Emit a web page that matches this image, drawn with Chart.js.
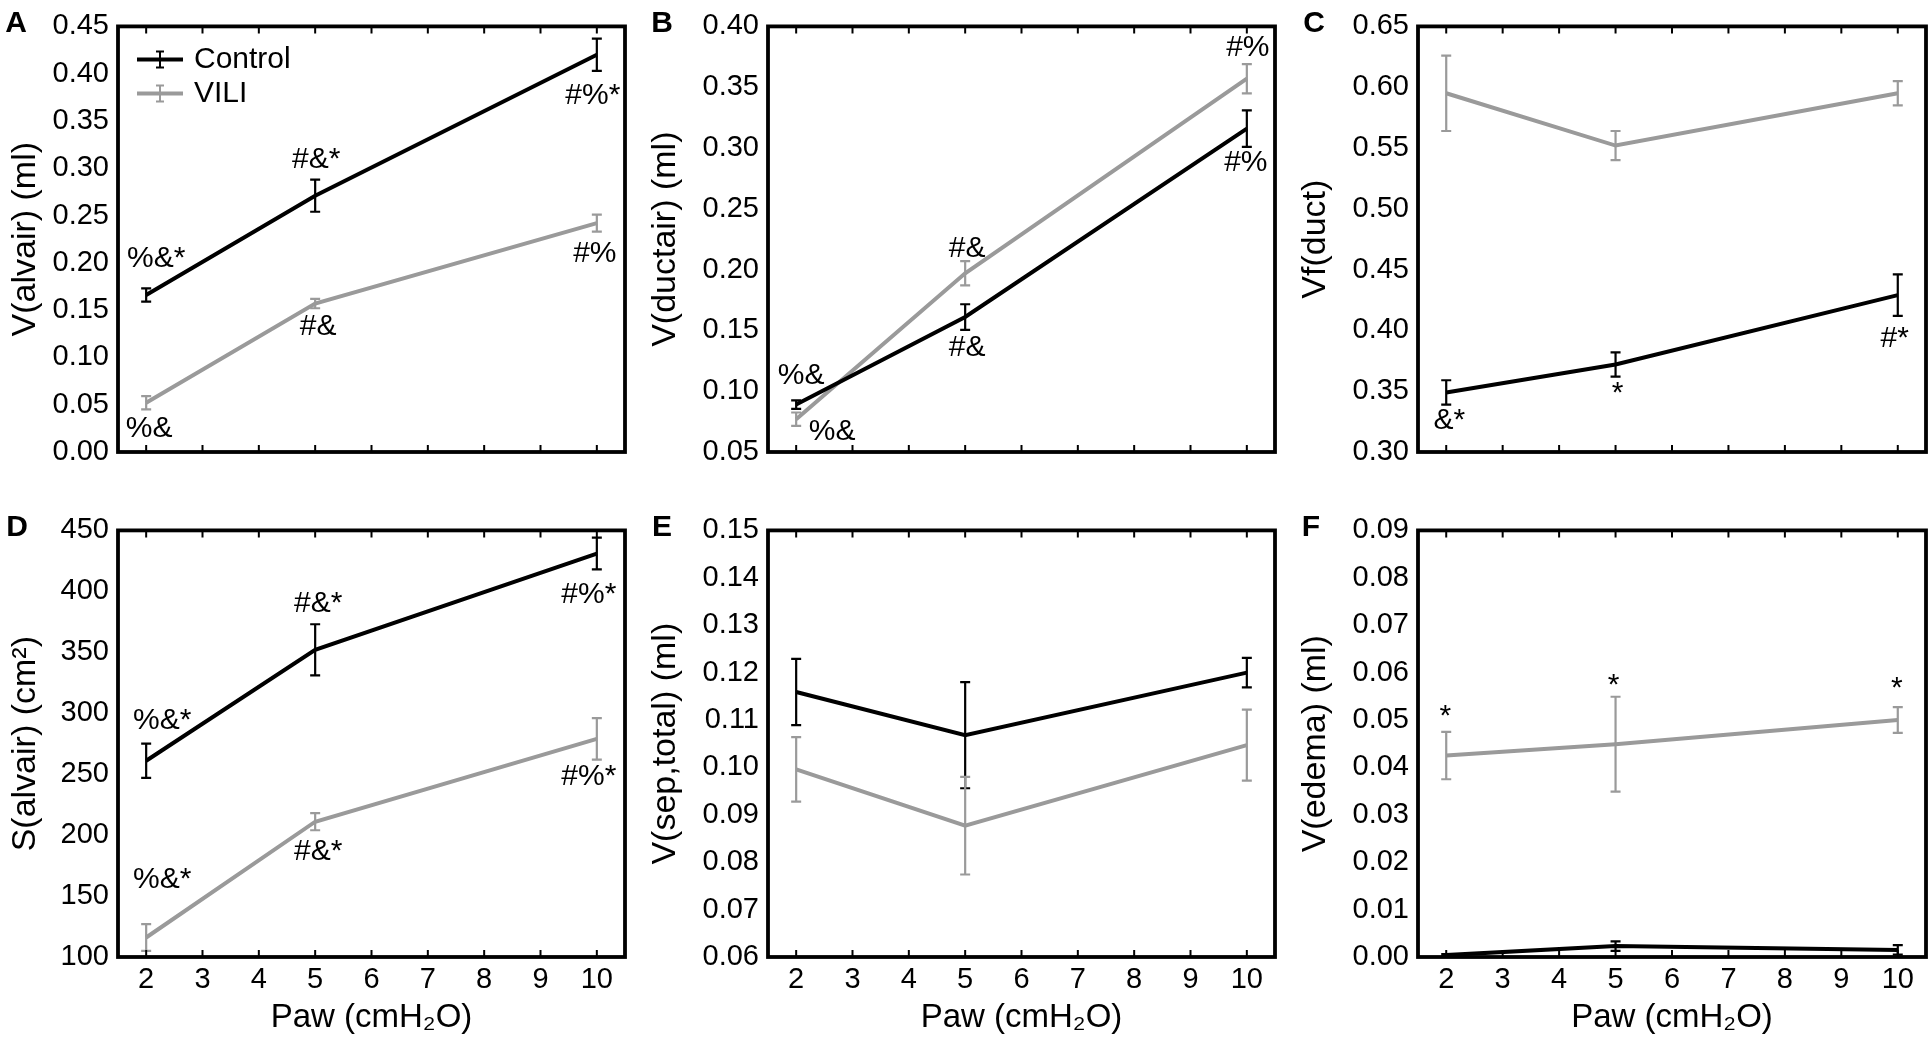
<!DOCTYPE html>
<html lang="en">
<head>
<meta charset="UTF-8">
<title>Alveolar and ductal air vs Paw</title>
<style>
  body { margin: 0; background: #fff; width: 1931px; height: 1055px; overflow: hidden; position: relative; }
  canvas { position: absolute; }
</style>
</head>
<body>
<canvas id="pA" width="630" height="480" style="left:0px;top:0px"></canvas>
<canvas id="pB" width="640" height="480" style="left:640px;top:0px"></canvas>
<canvas id="pC" width="641" height="480" style="left:1290px;top:0px"></canvas>
<canvas id="pD" width="630" height="551" style="left:0px;top:504px"></canvas>
<canvas id="pE" width="640" height="551" style="left:640px;top:504px"></canvas>
<canvas id="pF" width="641" height="551" style="left:1290px;top:504px"></canvas>

<script src="https://cdn.jsdelivr.net/npm/chart.js@4"></script>
<script>
// ---- data ----
const paw = [2, 5, 10];
const pawTicks = [2, 3, 4, 5, 6, 7, 8, 9, 10];
const seriesNames = ['Control', 'VILI'];

// A: V(alvair)
const alvCtrl = [0.166, 0.271, 0.420];
const alvCtrlErr = [0.007, 0.017, 0.017];
const alvVili = [0.052, 0.157, 0.242];
const alvViliErr = [0.007, 0.005, 0.009];
const alvCtrlSig = ['%&*', '#&*', '#%*'];
const alvViliSig = ['%&', '#&', '#%'];

// B: V(ductair)
const ductCtrl = [0.089, 0.161, 0.316];
const ductCtrlErr = [0.0035, 0.0105, 0.015];
const ductVili = [0.077, 0.197, 0.357];
const ductViliErr = [0.0055, 0.010, 0.012];
const ductCtrlSig = ['%&', '#&', '#%'];
const ductViliSig = ['%&', '#&', '#%'];

// C: Vf(duct)
const vfCtrl = [0.349, 0.372, 0.429];
const vfCtrlErr = [0.010, 0.010, 0.017];
const vfVili = [0.595, 0.552, 0.595];
const vfViliErr = [0.031, 0.012, 0.010];
const vfCtrlSig = ['&*', '*', '#*'];

// D: S(alvair)
const surfCtrl = [261, 352, 431];
const surfCtrlErr = [14, 21, 13];
const surfVili = [116, 211, 279];
const surfViliErr = [11, 7, 17];
const surfCtrlSig = ['%&*', '#&*', '#%*'];
const surfViliSig = ['%&*', '#&*', '#%*'];

// E: V(sep,total)
const sepCtrl = [0.1159, 0.1068, 0.1200];
const sepCtrlErr = [0.0070, 0.0112, 0.0031];
const sepVili = [0.0996, 0.0877, 0.1047];
const sepViliErr = [0.0068, 0.0103, 0.0075];

// F: V(edema)
const edemaCtrl = [0.0004, 0.0023, 0.0015];
const edemaCtrlErr = [0.0002, 0.0010, 0.0010];
const edemaVili = [0.0425, 0.0449, 0.0500];
const edemaViliErr = [0.0050, 0.0100, 0.0027];
const edemaViliSig = ['*', '*', '*'];

// ---- style ----
const FONT = "'Liberation Sans', Arial, sans-serif";
const BLACK = '#000000';
const GREY = '#9a9a9a';
Chart.defaults.font.family = FONT;
Chart.defaults.color = '#000';

const panels = [
  { id: 'pA', letter: 'A', letterX: 16, yTitle: 'V(alvair) (ml)', yMin: 0, yMax: 0.45, yStep: 0.05, dec: 2,
    axisW: 118, bottom: false, legend: true,
    series: [alvCtrl, alvVili], errs: [alvCtrlErr, alvViliErr], sig: [alvCtrlSig, alvViliSig],
    sigOff: [[[10, -36], [1, -36], [-4, 41]], [[3, 26], [3, 23], [-2, 31]]] },
  { id: 'pB', letter: 'B', letterX: 22, yTitle: 'V(ductair) (ml)', yMin: 0.05, yMax: 0.40, yStep: 0.05, dec: 2,
    axisW: 128, bottom: false,
    series: [ductCtrl, ductVili], errs: [ductCtrlErr, ductViliErr], sig: [ductCtrlSig, ductViliSig],
    sigOff: [[[5, -29], [2, 31], [-1, 34]], [[36, 13], [2, -25], [1, -31]]] },
  { id: 'pC', letter: 'C', letterX: 24, yTitle: 'Vf(duct)', yMin: 0.30, yMax: 0.65, yStep: 0.05, dec: 2,
    axisW: 128, bottom: false,
    series: [vfCtrl, vfVili], errs: [vfCtrlErr, vfViliErr], sig: [vfCtrlSig, null],
    sigOff: [[[3, 28], [2, 29], [-3, 44]], null] },
  { id: 'pD', letter: 'D', letterX: 17, yTitle: 'S(alvair) (cm\u00B2)', yMin: 100, yMax: 450, yStep: 50, dec: 0,
    axisW: 118, bottom: true,
    series: [surfCtrl, surfVili], errs: [surfCtrlErr, surfViliErr], sig: [surfCtrlSig, surfViliSig],
    sigOff: [[[16, -40], [3, -46], [-8, 41]], [[16, -58], [3, 30], [-8, 38]]] },
  { id: 'pE', letter: 'E', letterX: 22, yTitle: 'V(sep,total) (ml)', yMin: 0.06, yMax: 0.15, yStep: 0.01, dec: 2,
    axisW: 128, bottom: true,
    series: [sepCtrl, sepVili], errs: [sepCtrlErr, sepViliErr], sig: [null, null], sigOff: [null, null] },
  { id: 'pF', letter: 'F', letterX: 21, yTitle: 'V(edema) (ml)', yMin: 0, yMax: 0.09, yStep: 0.01, dec: 2,
    axisW: 128, bottom: true,
    series: [edemaCtrl, edemaVili], errs: [edemaCtrlErr, edemaViliErr], sig: [null, edemaViliSig],
    sigOff: [null, [[-1, -39], [-2, -58], [-1, -31]]] }
];

const panelById = {};
panels.forEach(p => { panelById[p.id] = p; });

const decor = {
  id: 'decor',
  afterDatasetsDraw(chart) {
    const p = panelById[chart.canvas.id];
    const xs = chart.scales.x, ys = chart.scales.y;
    const ctx = chart.ctx;
    ctx.save();
    // error bars
    p.series.forEach((vals, d) => {
      ctx.strokeStyle = chart.data.datasets[d].borderColor;
      ctx.lineWidth = 2.2;
      vals.forEach((v, i) => {
        const x = xs.getPixelForValue(paw[i]);
        const y1 = ys.getPixelForValue(v + p.errs[d][i]);
        const y2 = ys.getPixelForValue(v - p.errs[d][i]);
        ctx.beginPath();
        ctx.moveTo(x, y1); ctx.lineTo(x, y2);
        ctx.moveTo(x - 5, y1); ctx.lineTo(x + 5, y1);
        ctx.moveTo(x - 5, y2); ctx.lineTo(x + 5, y2);
        ctx.stroke();
      });
    });
    ctx.restore();
  },
  afterDraw(chart) {
    const p = panelById[chart.canvas.id];
    const xs = chart.scales.x, ys = chart.scales.y;
    const a = chart.chartArea;
    const ctx = chart.ctx;
    ctx.save();
    // frame
    ctx.strokeStyle = BLACK;
    ctx.lineWidth = 3.8;
    ctx.strokeRect(a.left, a.top, a.right - a.left, a.bottom - a.top);
    // inner x ticks, top and bottom
    ctx.lineWidth = 2;
    xs.ticks.forEach(t => {
      const x = xs.getPixelForValue(t.value);
      ctx.beginPath();
      ctx.moveTo(x, a.bottom); ctx.lineTo(x, a.bottom - 7);
      ctx.moveTo(x, a.top); ctx.lineTo(x, a.top + 7);
      ctx.stroke();
    });
    // significance marks
    ctx.fillStyle = BLACK;
    ctx.font = '30px ' + FONT;
    ctx.textAlign = 'center';
    ctx.textBaseline = 'middle';
    p.sig.forEach((marks, d) => {
      if (!marks) return;
      marks.forEach((m, i) => {
        const off = p.sigOff[d][i];
        const x = xs.getPixelForValue(paw[i]) + off[0];
        const y = ys.getPixelForValue(p.series[d][i]) + off[1];
        ctx.fillText(m, x, y);
      });
    });
    // panel letter
    ctx.font = 'bold 30px ' + FONT;
    ctx.fillText(p.letter, p.letterX, 24);
    // legend
    if (p.legend) {
      chart.data.datasets.forEach((ds, d) => {
        const y = a.top + 33 + d * 34;
        const x0 = a.left + 19, x1 = a.left + 65, xm = (x0 + x1) / 2;
        ctx.strokeStyle = ds.borderColor;
        ctx.lineWidth = 4;
        ctx.beginPath(); ctx.moveTo(x0, y); ctx.lineTo(x1, y); ctx.stroke();
        ctx.lineWidth = 2;
        ctx.beginPath();
        ctx.moveTo(xm, y - 8); ctx.lineTo(xm, y + 8);
        ctx.moveTo(xm - 4, y - 8); ctx.lineTo(xm + 4, y - 8);
        ctx.moveTo(xm - 4, y + 8); ctx.lineTo(xm + 4, y + 8);
        ctx.stroke();
        ctx.font = '30px ' + FONT;
        ctx.textAlign = 'left';
        ctx.fillText(ds.label, a.left + 76, y);
      });
    }
    ctx.restore();
  }
};

panels.forEach(p => {
  const canvas = document.getElementById(p.id);
  const xAxisH = p.bottom ? canvas.height - 24 - 429 : canvas.height - 24 - 428;
  new Chart(canvas, {
    type: 'line',
    data: {
      datasets: p.series.map((vals, d) => ({
        label: seriesNames[d],
        data: vals.map((v, i) => ({ x: paw[i], y: v })),
        borderColor: d === 0 ? BLACK : GREY,
        borderWidth: 4,
        pointRadius: 0,
        tension: 0,
        fill: false
      }))
    },
    options: {
      responsive: false,
      animation: false,
      devicePixelRatio: 1,
      layout: { padding: { top: 24, right: 5, left: 0, bottom: 0 } },
      plugins: { legend: { display: false }, tooltip: { enabled: false } },
      scales: {
        x: {
          type: 'linear',
          min: 1.5,
          max: 10.5,
          afterBuildTicks: s => { s.ticks = pawTicks.map(v => ({ value: v })); },
          afterFit: s => { s.height = xAxisH; },
          grid: { display: false, drawTicks: false },
          border: { display: false },
          ticks: { display: p.bottom, padding: 6, color: '#000', font: { size: 29 }, autoSkip: false, maxRotation: 0 },
          title: { display: p.bottom, text: 'Paw (cmH\u2082O)', color: '#000', font: { size: 33 }, padding: { top: 0, bottom: 17 } }
        },
        y: {
          type: 'linear',
          min: p.yMin,
          max: p.yMax,
          afterFit: s => { s.width = p.axisW; },
          grid: { display: false, drawTicks: false },
          border: { display: false },
          ticks: { stepSize: p.yStep, padding: 9, color: '#000', font: { size: 29 }, autoSkip: false,
                   callback: v => v.toFixed(p.dec) },
          title: { display: true, text: p.yTitle, color: '#000', font: { size: 34 }, padding: { top: 5, bottom: 0 } }
        }
      }
    },
    plugins: [decor]
  });
});
</script>
</body>
</html>
